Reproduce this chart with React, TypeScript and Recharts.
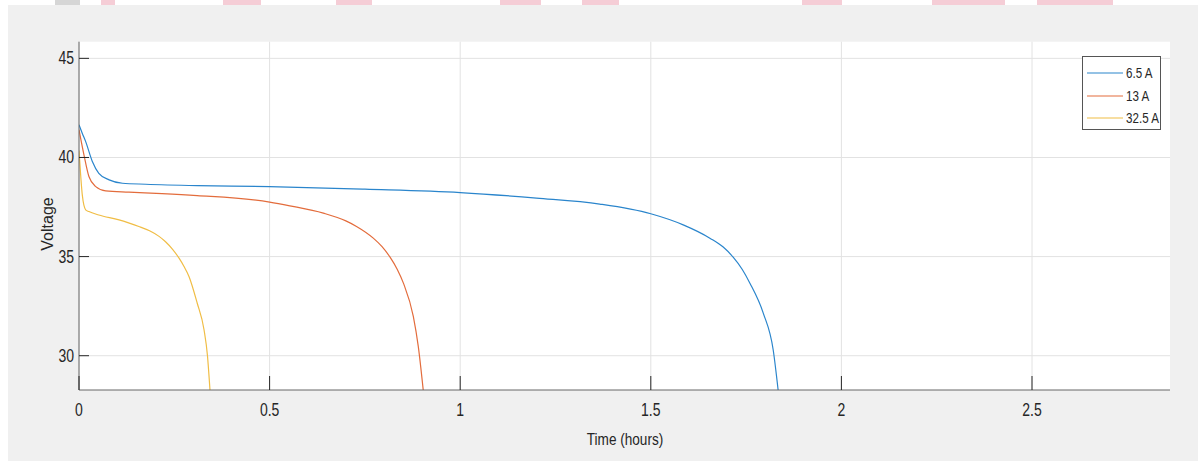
import React from 'react';
import { LineChart, Line, XAxis, YAxis, CartesianGrid } from 'recharts';

// discharge curves, time in hours / terminal voltage
const time65 = [0, 0.009, 0.0175, 0.035, 0.052, 0.079, 0.114, 0.175, 0.31, 0.5, 0.75, 1.0, 1.2, 1.366, 1.5, 1.585, 1.655, 1.69, 1.716, 1.74, 1.76, 1.795, 1.821, 1.834];
const volt65 = [41.65, 41.2, 40.8, 39.8, 39.2, 38.87, 38.7, 38.65, 38.58, 38.53, 38.4, 38.23, 37.95, 37.65, 37.16, 36.6, 35.93, 35.48, 34.97, 34.35, 33.66, 32.15, 30.3, 28.27];

const time13 = [0, 0.013, 0.026, 0.044, 0.07, 0.131, 0.218, 0.31, 0.5, 0.553, 0.641, 0.7, 0.728, 0.772, 0.795, 0.816, 0.835, 0.851, 0.877, 0.89, 0.903];
const volt13 = [41.4, 40.13, 39.04, 38.53, 38.31, 38.25, 38.18, 38.08, 37.75, 37.56, 37.19, 36.8, 36.52, 35.93, 35.5, 34.97, 34.35, 33.66, 31.98, 30.47, 28.27];

const time325 = [0, 0.0044, 0.0087, 0.0175, 0.026, 0.052, 0.105, 0.13, 0.157, 0.185, 0.21, 0.227, 0.245, 0.2625, 0.2755, 0.2885, 0.31, 0.328, 0.337, 0.3436];
const volt325 = [40.35, 39.1, 38.1, 37.36, 37.27, 37.1, 36.85, 36.7, 36.52, 36.3, 36.02, 35.75, 35.38, 34.92, 34.5, 34.0, 32.66, 31.31, 30.0, 28.27];

const seriesNames = ['6.5 A', '13 A', '32.5 A'];
const seriesColors = ['#2a85cc', '#e36c3c', '#f0bd45'];

const xTicks = [0, 0.5, 1, 1.5, 2, 2.5];
const yTicks = [30, 35, 40, 45];
const xDomain = [0, 2.862];
const yDomain = [28.27, 45.84];

const toRows = (t: number[], v: number[]) => t.map((x, i) => ({ t: x, v: v[i] }));
const series = [toRows(time65, volt65), toRows(time13, volt13), toRows(time325, volt325)];

const FONT = '"Liberation Sans", Arial, Helvetica, sans-serif';
const SQUEEZE = 0.8; // condensed look for horizontal text
const AXIS = '#666';
const TEXT = '#262626';

const NarrowText = ({ x, y, anchor, size, children }: any) => (
  <text
    transform={`translate(${x} ${y}) scale(${SQUEEZE} 1)`}
    textAnchor={anchor}
    fontSize={size}
    fontFamily={FONT}
    fill={TEXT}
  >
    {children}
  </text>
);

const LeftTick = (p: any) => (
  <g>
    <line x1={p.x} x2={p.x + 10} y1={p.y} y2={p.y} stroke={TEXT} strokeWidth={1} />
    <NarrowText x={p.x - 5} y={p.y + 6} anchor="end" size={17.5}>{p.payload.value}</NarrowText>
  </g>
);

const RightTick = (p: any) => (
  <line x1={p.x - 10} x2={p.x} y1={p.y} y2={p.y} stroke={TEXT} strokeWidth={1} />
);

const BottomTick = (p: any) => (
  <g>
    <line x1={p.x} x2={p.x} y1={p.y} y2={p.y - 14} stroke={TEXT} strokeWidth={1} />
    <NarrowText x={p.x} y={p.y + 26} anchor="middle" size={17.5}>{p.payload.value}</NarrowText>
  </g>
);

const TopTick = (p: any) => (
  <line x1={p.x} x2={p.x} y1={p.y} y2={p.y + 14} stroke={TEXT} strokeWidth={1} />
);

// caption strip cut off at the top of the page
const captionMarks = [
  [55, 80, '#d6d6d6'], [101, 115, '#f5cdd6'], [223, 261, '#f5cdd6'], [336, 372, '#f5cdd6'],
  [500, 541, '#f5cdd6'], [582, 619, '#f5cdd6'], [802, 842, '#f5cdd6'], [932, 1005, '#f5cdd6'],
  [1037, 1113, '#f5cdd6'],
] as const;

export default function App() {
  return (
    <div style={{ position: 'absolute', left: 0, top: 0, width: 1198, height: 461, background: '#fff' }}>
      {captionMarks.map(([a, b, c], i) => (
        <div key={i} style={{ position: 'absolute', left: a, top: 0, width: b - a, height: 5, background: c }} />
      ))}
      <div style={{ position: 'absolute', left: 8, top: 5, width: 1190, height: 456, background: '#f0f0f0' }}>
        <LineChart
          width={1190}
          height={456}
          margin={{ top: 36.7, right: 28, bottom: 41, left: 31 }}
        >
          <CartesianGrid stroke="#e2e2e2" fill="#fff" verticalValues={xTicks} horizontalValues={yTicks} />
          <XAxis
            dataKey="t"
            type="number"
            domain={xDomain}
            ticks={xTicks}
            allowDataOverflow
            height={30}
            tickSize={0}
            tickMargin={0}
            tickLine={false}
            axisLine={{ stroke: AXIS }}
            tick={BottomTick}
          />
          <XAxis
            xAxisId="top"
            orientation="top"
            dataKey="t"
            type="number"
            domain={xDomain}
            ticks={xTicks}
            allowDataOverflow
            height={0}
            tickSize={0}
            tickMargin={0}
            tickLine={false}
            axisLine={{ stroke: AXIS }}
            tick={TopTick}
          />
          <YAxis
            type="number"
            domain={yDomain}
            ticks={yTicks}
            allowDataOverflow
            width={40}
            tickSize={0}
            tickMargin={0}
            tickLine={false}
            axisLine={{ stroke: AXIS }}
            tick={LeftTick}
          />
          <YAxis
            yAxisId="right"
            orientation="right"
            type="number"
            domain={yDomain}
            ticks={yTicks}
            allowDataOverflow
            width={0}
            tickSize={0}
            tickMargin={0}
            tickLine={false}
            axisLine={{ stroke: AXIS }}
            tick={RightTick}
          />
          {series.map((rows, i) => (
            <Line
              key={seriesNames[i]}
              data={rows}
              dataKey="v"
              name={seriesNames[i]}
              type="monotone"
              stroke={seriesColors[i]}
              strokeWidth={1.2}
              dot={false}
              isAnimationActive={false}
            />
          ))}
        </LineChart>
        <svg style={{ position: 'absolute', left: 0, top: 0, pointerEvents: 'none' }} width={1190} height={456}>
          <text x={45} y={219} transform="rotate(-90 45 219)" textAnchor="middle" fontSize={16}
            fontFamily={FONT} fill={TEXT}>
            Voltage
          </text>
          <NarrowText x={617} y={440} anchor="middle" size={17}>Time (hours)</NarrowText>
        </svg>
      </div>
      <div style={{
        position: 'absolute', left: 1082, top: 56, width: 77, height: 72,
        background: '#fff', border: '1px solid #555', fontFamily: FONT, fontSize: 14.5, color: TEXT,
      }}>
        {seriesNames.map((name, i) => (
          <div key={name} style={{ position: 'absolute', left: 3, top: 6 + i * 22.5, height: 20, display: 'flex', alignItems: 'center' }}>
            <svg width={37} height={20}>
              <line x1={1} x2={37} y1={10} y2={10} stroke={seriesColors[i]} strokeWidth={1.2} />
            </svg>
            <span style={{
              marginLeft: 3, whiteSpace: 'nowrap', display: 'inline-block',
              transform: `scaleX(${SQUEEZE})`, transformOrigin: 'left center',
            }}>
              {name}
            </span>
          </div>
        ))}
      </div>
    </div>
  );
}
